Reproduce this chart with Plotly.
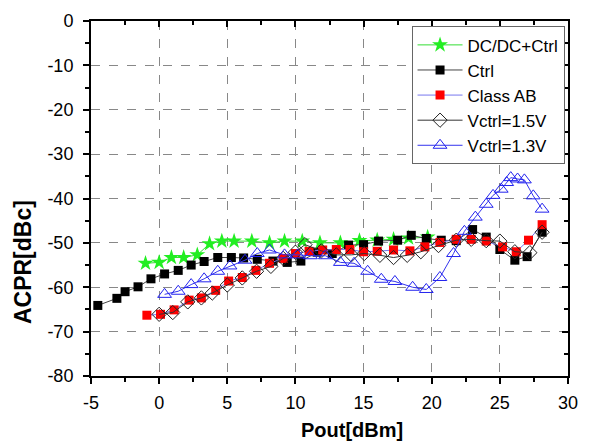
import plotly.graph_objects as go

# ---- data ----
dcdc_x = [-1.0, 0.0, 0.9, 1.8, 2.8, 3.7, 4.6, 5.5, 6.8, 8.1, 9.2, 10.5, 11.8, 13.3, 14.7, 16.0, 17.2, 18.3, 19.7]
dcdc_y = [-54.6, -54.4, -53.3, -53.3, -52.7, -50.2, -49.6, -49.6, -49.6, -50.0, -49.6, -49.6, -50.0, -50.0, -49.5, -49.4, -49.2, -48.9, -48.7]

ctrl_x = [-4.5, -3.1, -2.5, -1.55, -0.6, 0.4, 1.4, 2.35, 3.3, 4.3, 5.3, 6.2, 7.2, 8.35, 9.4, 10.4, 11.6, 12.7, 13.9, 15.0, 16.1,
          17.5, 18.5, 19.6, 20.7, 21.8, 23.0, 24.0, 25.0, 26.1, 27.0, 28.1]
ctrl_y = [-64.1, -62.5, -61.0, -59.9, -58.1, -57.0, -56.2, -55.0, -54.2, -53.3, -53.3, -53.4, -53.7, -54.1, -54.4, -54.1, -52.1,
          -52.4, -50.5, -50.4, -49.6, -49.4, -48.3, -49.0, -49.4, -49.5, -47.0, -48.7, -51.5, -53.9, -53.1, -47.6]

ab_x = [-0.9, 0.1, 1.1, 2.2, 3.1, 4.15, 5.1, 6.1, 7.1, 8.1, 9.1, 10.0, 11.0, 12.0, 13.0, 14.0, 15.0, 16.0, 17.2, 18.4, 19.5,
        20.6, 21.8, 22.9, 24.0, 25.2, 26.2, 27.1, 28.1]
ab_y = [-66.3, -66.1, -65.1, -62.9, -62.4, -60.7, -58.6, -57.8, -56.2, -54.6, -53.5, -52.4, -51.9, -51.6, -51.5, -51.5, -52.0,
        -51.9, -51.6, -51.8, -50.9, -49.9, -49.2, -49.2, -49.6, -50.9, -52.0, -49.4, -45.9]

v15_x = [0.0, 1.0, 2.1, 3.1, 3.9, 5.0, 6.1, 7.15, 8.2, 9.1, 10.0, 10.7, 11.9, 13.0, 14.1, 15.05, 16.2, 17.2, 18.2, 19.2, 20.5,
         21.8, 22.9, 24.0, 25.0, 26.1, 27.2, 28.1]
v15_y = [-66.1, -65.7, -63.3, -62.4, -61.3, -59.5, -57.9, -56.4, -55.3, -53.5, -52.1, -50.4, -51.8, -52.7, -52.7, -52.4, -52.8,
         -53.3, -52.8, -52.0, -50.6, -49.4, -49.2, -49.5, -49.6, -52.0, -52.2, -47.6]

v13_x = [0.4, 1.4, 2.35, 3.3, 4.3, 5.2, 6.3, 7.2, 8.1, 9.2, 10.15, 11.1, 12.2, 13.3, 14.3, 15.3, 16.3, 17.3, 18.6, 19.6, 20.6,
         21.6, 22.4, 23.2, 24.0, 24.5, 25.1, 25.5, 25.8, 26.3, 26.8, 27.45, 28.1]
v13_y = [-61.6, -60.9, -59.4, -58.1, -56.4, -55.2, -53.9, -52.4, -51.6, -52.7, -52.7, -52.9, -52.9, -54.4, -54.6, -56.4, -58.2,
         -58.7, -60.0, -60.5, -57.8, -52.4, -47.4, -44.2, -41.3, -39.3, -37.9, -36.4, -35.3, -35.6, -35.8, -39.4, -42.4]

x_ticks = [-5, 0, 5, 10, 15, 20, 25, 30]
y_ticks = [0, -10, -20, -30, -40, -50, -60, -70, -80]

FONT = "Liberation Sans, Arial, sans-serif"

fig = go.Figure()
fig.add_trace(go.Scatter(x=dcdc_x, y=dcdc_y, name="DC/DC+Ctrl", mode="lines+markers",
                         line=dict(color="#33dd33", width=1),
                         marker=dict(symbol="star", size=12, color="#22ee22", line=dict(width=0))))
fig.add_trace(go.Scatter(x=ctrl_x, y=ctrl_y, name="Ctrl", mode="lines+markers",
                         line=dict(color="#444444", width=1),
                         marker=dict(symbol="square", size=9, color="black", line=dict(width=0))))
fig.add_trace(go.Scatter(x=ab_x, y=ab_y, name="Class AB", mode="lines+markers",
                         line=dict(color="#7777ee", width=1),
                         marker=dict(symbol="square", size=9, color="#ff0000", line=dict(width=0))))
fig.add_trace(go.Scatter(x=v15_x, y=v15_y, name="Vctrl=1.5V", mode="lines+markers",
                         line=dict(color="#333333", width=1),
                         marker=dict(symbol="diamond-open", size=11, color="#222222", line=dict(width=1))))
fig.add_trace(go.Scatter(x=v13_x, y=v13_y, name="Vctrl=1.3V", mode="lines+markers",
                         line=dict(color="#3333ee", width=1),
                         marker=dict(symbol="triangle-up-open", size=12, color="#2222ee", line=dict(width=1))))
# dummy trace for mirrored inside ticks
fig.add_trace(go.Scatter(x=[None], y=[None], xaxis="x2", yaxis="y2", showlegend=False, hoverinfo="skip"))

axis_common = dict(showline=True, linecolor="black", linewidth=2, zeroline=False,
                   tickfont=dict(family=FONT, size=18, color="black"))

fig.update_layout(
    width=589, height=445,
    margin=dict(l=91, r=11, t=16, b=69),
    paper_bgcolor="white", plot_bgcolor="white",
    showlegend=True,
    xaxis=dict(range=[-5, 30], tickvals=x_ticks, ticktext=[str(v) for v in x_ticks],
               ticks="outside", ticklen=6, tickwidth=2, tickcolor="black",
               minor=dict(dtick=2.5, ticks="outside", ticklen=4, tickwidth=2, tickcolor="black", showgrid=False),
               showgrid=True, gridcolor="#888888", griddash="dash", gridwidth=1,
               ticklabelstandoff=3, mirror=True, **axis_common),
    yaxis=dict(range=[-80, 0], tickvals=y_ticks, ticktext=[str(v) for v in y_ticks],
               ticks="outside", ticklen=6, tickwidth=2, tickcolor="black",
               minor=dict(dtick=5, ticks="outside", ticklen=4, tickwidth=2, tickcolor="black", showgrid=False),
               showgrid=True, gridcolor="#888888", griddash="dash", gridwidth=1,
               ticklabelstandoff=6, mirror=True, **axis_common),
    xaxis2=dict(range=[-5, 30], overlaying="x", side="top", tickvals=x_ticks, showticklabels=False,
                ticks="inside", ticklen=6, tickwidth=2, tickcolor="black",
                minor=dict(dtick=2.5, ticks="inside", ticklen=4, tickwidth=2, tickcolor="black"),
                showgrid=False, zeroline=False, showline=False),
    yaxis2=dict(range=[-80, 0], overlaying="y", side="right", tickvals=y_ticks, showticklabels=False,
                ticks="inside", ticklen=6, tickwidth=2, tickcolor="black",
                minor=dict(dtick=5, ticks="inside", ticklen=4, tickwidth=2, tickcolor="black"),
                showgrid=False, zeroline=False, showline=False),
    legend=dict(x=0.672, y=0.985, xanchor="left", yanchor="top",
                bgcolor="white", bordercolor="#666666", borderwidth=1,
                font=dict(family=FONT, size=17, color="black"),
                tracegroupgap=0, itemwidth=45),
    annotations=[
        dict(text="<b>Pout[dBm]</b>", xref="paper", yref="paper", x=(357 - 91) / 487, y=-(431 - 376) / 360,
             xanchor="center", yanchor="middle", showarrow=False,
             font=dict(family=FONT, size=20, color="black")),
        dict(text="<b>ACPR[dBc]</b>", xref="paper", yref="paper", x=-(91 - 21) / 487, y=1 - (260 - 16) / 360,
             xanchor="center", yanchor="middle", showarrow=False, textangle=-90,
             font=dict(family=FONT, size=23, color="black")),
    ],
)

fig.write_html("out.html")
